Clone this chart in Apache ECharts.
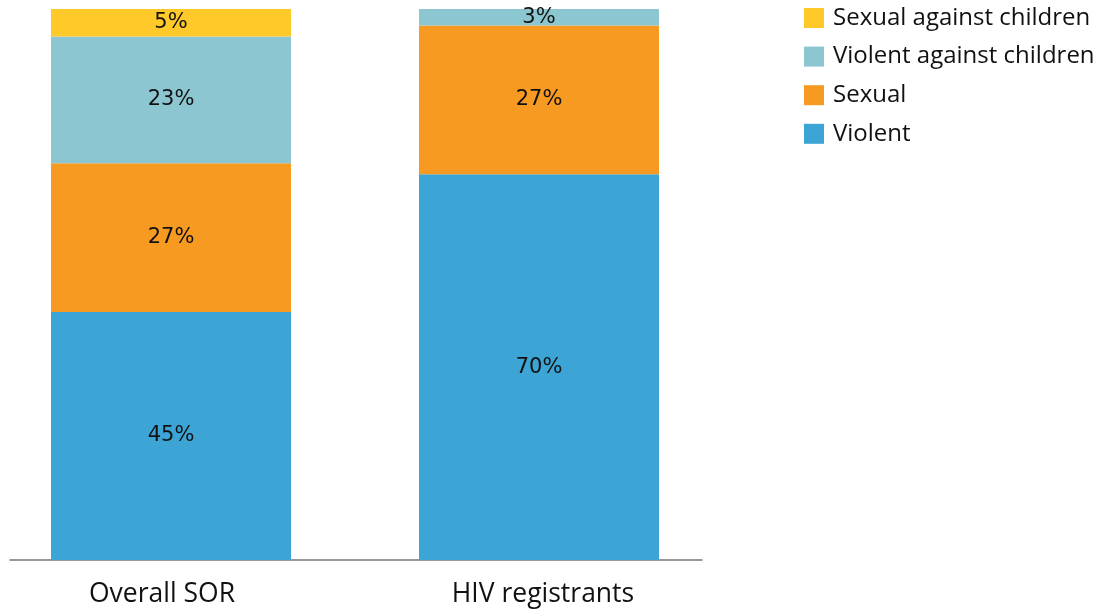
<!DOCTYPE html>
<html>
<head>
    <meta charset="UTF-8">
    <title>Offense types</title>
    <script src="https://cdn.jsdelivr.net/npm/echarts@6/dist/echarts.min.js"></script>
</head>
<body style="margin: 0;overflow: hidden;background: #fff;">
<div id="chart" style="width: 1101px;height: 610px"></div>
<script>
    var categories = ['Overall SOR', 'HIV registrants'];
    var violent = [45, 70];
    var sexual = [27, 27];
    var violentChildren = [23, 3];
    var sexualChildren = [5, null];

    var chart = echarts.init(document.getElementById('chart'));

    function barSeries(name, data, color) {
        return {
            name: name,
            type: 'bar',
            stack: 'total',
            barWidth: 240,
            xAxisIndex: 0,
            yAxisIndex: 0,
            itemStyle: {color: color},
            label: {
                show: true,
                position: 'inside',
                formatter: '{c}%',
                color: '#111',
                fontFamily: 'DejaVu Sans',
                fontSize: 21
            },
            data: data
        };
    }

    var option = {
        animation: false,
        legend: {
            orient: 'vertical',
            left: 799,
            top: 1,
            itemWidth: 20,
            itemHeight: 20,
            itemGap: 14.6,
            icon: 'rect',
            textStyle: {
                fontFamily: 'Open Sans',
                fontSize: 24,
                color: '#111',
                padding: [0, 0, 0, 4]
            },
            data: ['Sexual against children', 'Violent against children', 'Sexual', 'Violent']
        },
        grid: [
            {left: -13, width: 736, top: 9, bottom: 50, outerBoundsMode: 'none', containLabel: false},
            {left: 10, width: 692, top: 9, bottom: 50, outerBoundsMode: 'none', containLabel: false}
        ],
        xAxis: [
            {
                type: 'category',
                gridIndex: 0,
                data: categories,
                axisLine: {show: false},
                axisTick: {show: false},
                axisLabel: {
                    margin: 21,
                    fontFamily: 'Open Sans',
                    fontSize: 26.5,
                    color: '#111',
                    formatter: function (value, index) {
                        return (index === 0 ? '{a|' : '{b|') + value + '}';
                    },
                    rich: {
                        a: {fontFamily: 'Open Sans', fontSize: 26.5, color: '#111', padding: [0, 18, 0, 0]},
                        b: {fontFamily: 'Open Sans', fontSize: 26.5, color: '#111', padding: [0, 0, 0, 8]}
                    }
                }
            },
            {
                type: 'category',
                gridIndex: 1,
                data: categories,
                axisLine: {show: true, lineStyle: {color: '#777', width: 1.5}},
                axisTick: {show: false},
                axisLabel: {show: false}
            }
        ],
        yAxis: [
            {type: 'value', gridIndex: 0, min: 0, max: 100, show: false},
            {type: 'value', gridIndex: 1, min: 0, max: 100, show: false}
        ],
        series: [
            barSeries('Violent', violent, '#3DA5D5'),
            barSeries('Sexual', sexual, '#F79A21'),
            barSeries('Violent against children', violentChildren, '#8BC6D1'),
            barSeries('Sexual against children', sexualChildren, '#FFC929')
        ]
    };
    chart.setOption(option);
</script>
</body>
</html>
